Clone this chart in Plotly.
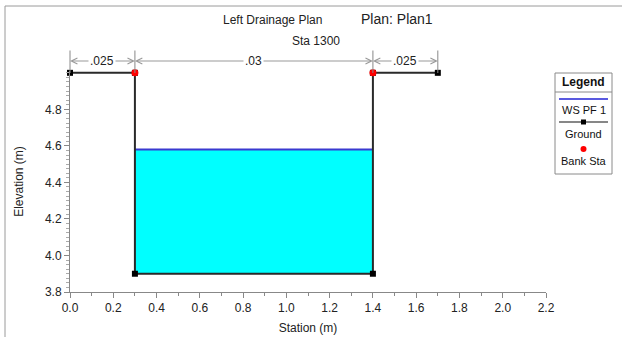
import plotly.graph_objects as go

# ---- data ----
ground_x = [0.0, 0.3, 0.3, 1.4, 1.4, 1.7]
ground_y = [5.0, 5.0, 3.9, 3.9, 5.0, 5.0]
bank_x = [0.3, 1.4]
bank_y = [5.0, 5.0]
ws_elev = 4.58
ws_x = [0.3, 1.4]
n_stations = [0.0, 0.3, 1.4, 1.7]
n_values = [".025", ".03", ".025"]

W, H = 622, 337
L, R, T, B = 70, 76, 71, 45
X_RANGE = [0, 2.2]
Y_RANGE = [3.8, 5.01]
PW, PH = W - L - R, H - T - B
FONT = "Liberation Sans"


def xp(px):
    return (px - L) / PW


def yp(py):
    return (H - B - py) / PH


def text_ann(x, y, text, size=12, xref="paper", color="#222", **kw):
    d = dict(x=x, y=y, xref=xref, yref="paper", text=text, showarrow=False,
             xanchor="center", yanchor="middle",
             font=dict(family=FONT, size=size, color=color))
    d.update(kw)
    return d


fig = go.Figure()

# water fill
fig.add_trace(go.Scatter(
    x=[ws_x[0], ws_x[1], ws_x[1], ws_x[0]],
    y=[ws_elev, ws_elev, min(ground_y), min(ground_y)],
    fill="toself", fillcolor="#00FFFF", mode="none", showlegend=False,
    hoverinfo="skip"))
# water surface line
fig.add_trace(go.Scatter(x=ws_x, y=[ws_elev, ws_elev], mode="lines",
                         line=dict(color="#3a3ad0", width=2), showlegend=False))
# ground
fig.add_trace(go.Scatter(x=ground_x, y=ground_y, mode="lines+markers",
                         line=dict(color="#2a2a2a", width=2),
                         marker=dict(symbol="square", size=6, color="black"),
                         cliponaxis=False, showlegend=False))
# bank stations
fig.add_trace(go.Scatter(x=bank_x, y=bank_y, mode="markers",
                         marker=dict(symbol="circle", size=7, color="#ff0000"),
                         cliponaxis=False, showlegend=False))

shapes = []
annotations = []

# Manning's n dimension lines
ann_y = yp(61)
for s in n_stations:
    annotations.append(dict(x=s, y=yp(73), xref="x", yref="paper", text="",
                            showarrow=True, arrowhead=0, ax=0, ay=-24,
                            arrowcolor="#888888", arrowwidth=1))
for i, label in enumerate(n_values):
    a, b = n_stations[i], n_stations[i + 1]
    mid = (a + b) / 2
    for end in (a, b):
        annotations.append(dict(x=end, y=ann_y, xref="x", yref="paper",
                                ax=mid, ay=0, axref="x", ayref="pixel",
                                text="", showarrow=True, arrowhead=5,
                                arrowsize=1.2, arrowwidth=1, arrowcolor="#999999"))
for i, label in enumerate(n_values):
    a, b = n_stations[i], n_stations[i + 1]
    annotations.append(text_ann((a + b) / 2, ann_y, label, xref="x",
                                bgcolor="white", borderpad=1))

# titles
annotations.append(text_ann(xp(272), yp(20), "Left Drainage Plan", 12))
annotations.append(text_ann(xp(397), yp(19), "Plan: Plan1", 14))
annotations.append(text_ann(xp(316), yp(41), "Sta 1300", 12))

# outer border
shapes.append(dict(type="line", xref="paper", yref="paper",
                   x0=xp(5), x1=xp(622), y0=yp(6), y1=yp(6),
                   line=dict(color="#9a9a9a", width=1)))
shapes.append(dict(type="line", xref="paper", yref="paper",
                   x0=xp(5), x1=xp(5), y0=yp(6), y1=yp(337),
                   line=dict(color="#9a9a9a", width=1)))

# custom legend
lx0, lx1, ly0, ly1 = 555, 612, 73, 174
lcx = (lx0 + lx1) / 2
shapes.append(dict(type="rect", xref="paper", yref="paper",
                   x0=xp(lx0), x1=xp(lx1), y0=yp(ly1), y1=yp(ly0),
                   line=dict(color="#8a8a8a", width=1), fillcolor="white"))
shapes.append(dict(type="line", xref="paper", yref="paper",
                   x0=xp(lx0), x1=xp(lx1), y0=yp(92), y1=yp(92),
                   line=dict(color="#8a8a8a", width=1)))
annotations.append(text_ann(xp(lcx), yp(82), "<b>Legend</b>", 12, color="#111"))
shapes.append(dict(type="line", xref="paper", yref="paper",
                   x0=xp(559), x1=xp(608), y0=yp(99), y1=yp(99),
                   line=dict(color="#5a5ae0", width=2)))
annotations.append(text_ann(xp(lcx), yp(110), "WS PF 1", 11, color="#111"))
shapes.append(dict(type="line", xref="paper", yref="paper",
                   x0=xp(559), x1=xp(608), y0=yp(122), y1=yp(122),
                   line=dict(color="#111", width=1.2)))
shapes.append(dict(type="rect", xref="paper", yref="paper",
                   x0=xp(lcx - 2.5), x1=xp(lcx + 2.5), y0=yp(124.5), y1=yp(119.5),
                   line=dict(width=0), fillcolor="black"))
annotations.append(text_ann(xp(lcx), yp(134), "Ground", 11, color="#111"))
shapes.append(dict(type="circle", xref="paper", yref="paper",
                   x0=xp(lcx - 3), x1=xp(lcx + 3), y0=yp(152), y1=yp(146),
                   line=dict(width=0), fillcolor="#ff0000"))
annotations.append(text_ann(xp(lcx), yp(161), "Bank Sta", 11, color="#111"))

fig.update_layout(
    width=W, height=H,
    margin=dict(l=L, r=R, t=T, b=B, pad=0, autoexpand=False),
    paper_bgcolor="white", plot_bgcolor="white",
    font=dict(family=FONT, size=12, color="#222"),
    showlegend=False,
    shapes=shapes, annotations=annotations,
    xaxis=dict(range=X_RANGE, dtick=0.2, tickformat=".1f", automargin=False,
               showgrid=False, zeroline=False, showline=True,
               linecolor="#888", linewidth=1,
               ticks="outside", ticklen=5, tickcolor="#888",
               minor=dict(dtick=0.1, ticks="outside", ticklen=3, tickcolor="#888"),
               tickfont=dict(family=FONT, size=12, color="#222"),
               title=dict(text="Station (m)", standoff=9,
                          font=dict(family=FONT, size=12, color="#222"))),
    yaxis=dict(range=Y_RANGE, tickvals=[3.8, 4.0, 4.2, 4.4, 4.6, 4.8],
               tickformat=".1f", automargin=False,
               showgrid=False, zeroline=False, showline=True,
               linecolor="#888", linewidth=1,
               ticks="outside", ticklen=5, tickcolor="#888",
               minor=dict(dtick=0.025, tick0=3.8, ticks="outside", ticklen=3,
                          tickcolor="#aaa"),
               tickfont=dict(family=FONT, size=12, color="#222"),
               title=dict(text="Elevation (m)", standoff=18,
                          font=dict(family=FONT, size=12, color="#222"))),
)

fig.write_html("out.html")
